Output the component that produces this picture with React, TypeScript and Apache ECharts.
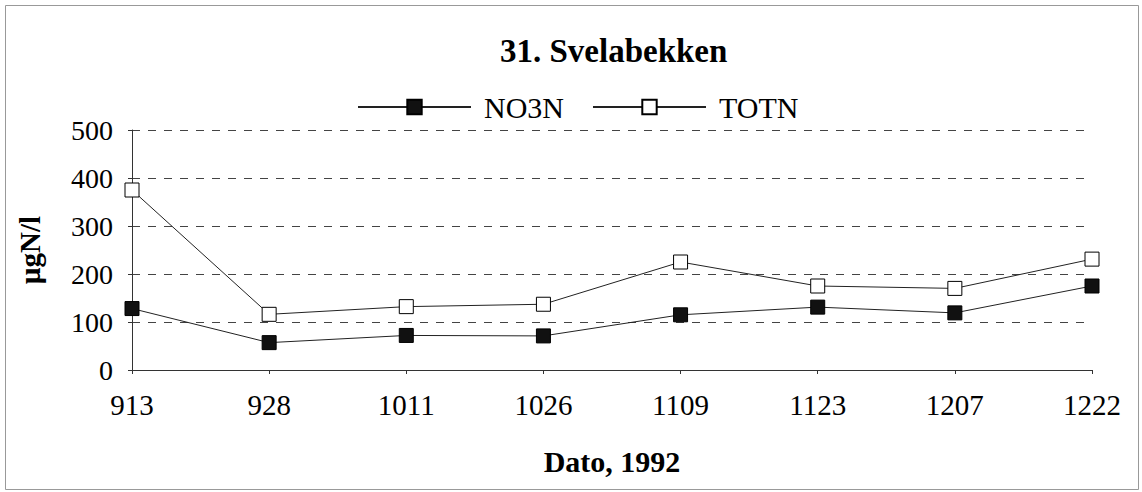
import React, { useEffect, useRef } from "react";
import * as echarts from "echarts";

const categories = ["913", "928", "1011", "1026", "1109", "1123", "1207", "1222"];
const no3n = [128, 57, 72, 71, 115, 131, 119, 175];
const totn = [375, 116, 132, 137, 225, 175, 170, 231];
const yTicks = [0, 100, 200, 300, 400, 500];

const FONT = "Liberation Serif";

export default function App() {
  const ref = useRef<HTMLDivElement>(null);
  useEffect(() => {
    document.body.style.margin = "0";
    const chart = echarts.init(ref.current!, null, { renderer: "svg" });
    chart.setOption({
      animation: false,
      backgroundColor: "#ffffff",
      title: {
        text: "31. Svelabekken",
        left: 495,
        top: 29,
        textStyle: { fontFamily: FONT, fontSize: 33, fontWeight: "bold", color: "#000" },
      },
      legend: {
        top: 87,
        left: 352,
        itemWidth: 113,
        itemHeight: 18,
        itemGap: 28,
        textStyle: { fontFamily: FONT, fontSize: 30, color: "#000", padding: [0, 0, 0, 8] },
        data: ["NO3N", "TOTN"],
      },
      graphic: [
        {
          type: "rect",
          shape: { x: 5.5, y: 5.5, width: 1133, height: 484 },
          style: { fill: "none", stroke: "#999", lineWidth: 1 },
          silent: true,
        },
      ],
      grid: { left: 132, right: 50, top: 130, bottom: 122, containLabel: false },
      xAxis: {
        type: "category",
        data: categories,
        boundaryGap: false,
        name: "Dato, 1992",
        nameLocation: "middle",
        nameGap: 76,
        nameTextStyle: { fontFamily: FONT, fontSize: 30, fontWeight: "bold", color: "#000" },
        axisLine: { lineStyle: { color: "#333", width: 1 } },
        axisTick: { show: true, length: 4, lineStyle: { color: "#333" } },
        axisLabel: { fontFamily: FONT, fontSize: 29, color: "#000", margin: 20 },
        splitLine: { show: false },
      },
      yAxis: {
        type: "value",
        min: yTicks[0],
        max: yTicks[yTicks.length - 1],
        interval: 100,
        name: "µgN/l",
        nameLocation: "middle",
        nameGap: 88,
        nameTextStyle: { fontFamily: FONT, fontSize: 29, fontWeight: "bold", color: "#000" },
        axisLine: { show: true, lineStyle: { color: "#333", width: 1 } },
        axisTick: { show: true, length: 4, lineStyle: { color: "#333" } },
        axisLabel: { fontFamily: FONT, fontSize: 28, color: "#000", margin: 19 },
        splitLine: { show: true, lineStyle: { color: "#444", type: [8, 8], width: 1 } },
      },
      series: [
        {
          name: "NO3N",
          type: "line",
          data: no3n,
          symbol: "rect",
          symbolSize: 14,
          lineStyle: { color: "#222", width: 1 },
          itemStyle: { color: "#111", borderColor: "#000", borderWidth: 1 },
        },
        {
          name: "TOTN",
          type: "line",
          data: totn,
          symbol: "rect",
          symbolSize: 14,
          lineStyle: { color: "#222", width: 1 },
          itemStyle: { color: "#fff", borderColor: "#000", borderWidth: 1 },
        },
      ],
    });
    return () => chart.dispose();
  }, []);
  return <div ref={ref} style={{ width: 1142, height: 492 }} />;
}
